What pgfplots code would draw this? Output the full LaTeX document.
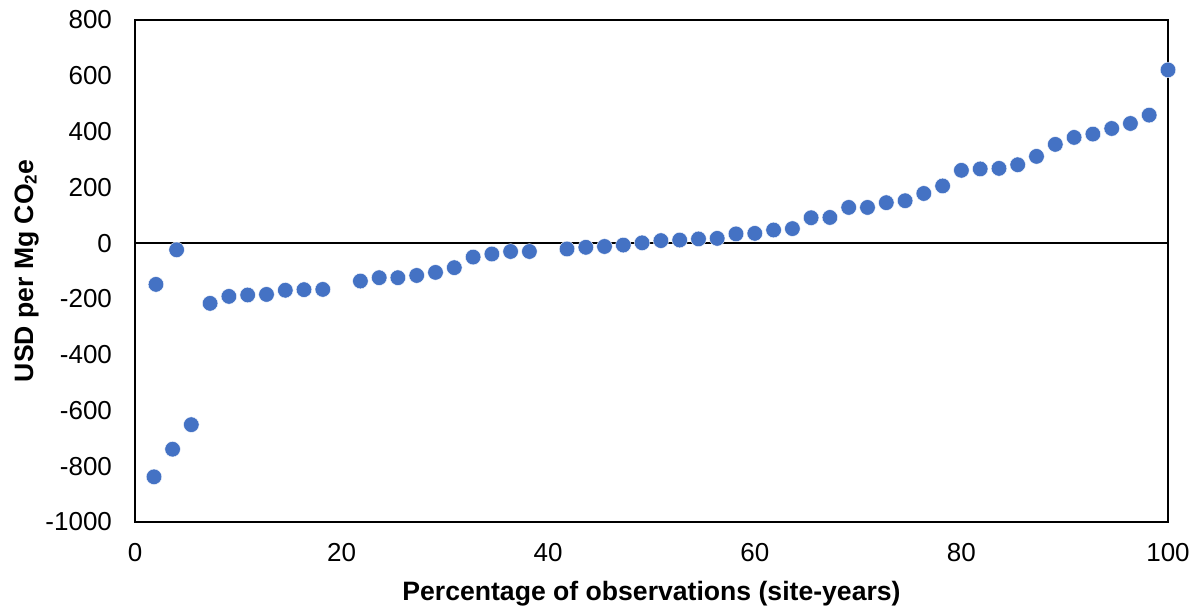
\documentclass[border=0pt]{standalone}
\usepackage{pgfplots}
\pgfplotsset{compat=1.18}
\usepackage{fontspec}
\setmainfont{Liberation Sans}
\definecolor{dotblue}{HTML}{4472C4}
\begin{document}
\begin{tikzpicture}
\begin{axis}[
  scale only axis,
  width=516.5pt, height=251pt,
  xmin=0, xmax=100, ymin=-1000, ymax=800,
  xtick={0,20,...,100},
  ytick={-1000,-800,...,800},
  major tick length=0pt,
  axis line style={line width=0.8pt},
  tick label style={font=\fontsize{13}{15}\selectfont},
  /pgf/number format/assume math mode=true,
  /pgf/number format/1000 sep={},
  yticklabel style={xshift=-8pt},
  xticklabel style={yshift=-7pt},
  xlabel={\bfseries Percentage of observations (site-years)},
  ylabel={\bfseries USD per Mg CO\raisebox{-0.25ex}{\fontsize{8.5}{10}\selectfont 2}e},
  label style={font=\fontsize{13.3}{15}\selectfont\bfseries},
  xlabel style={yshift=-3pt},
  ylabel style={yshift=-3.5pt},
  clip=false,
]
\draw[black, line width=0.8pt] (axis cs:0,0) -- (axis cs:100,0);
\addplot[only marks, mark=*, mark size=3.9pt, mark options={fill=dotblue, draw=white, line width=0.2pt}] coordinates {
(1.84,-838) (2.03,-148) (3.64,-739) (4.03,-24) (5.45,-651)
(7.27,-216) (9.09,-191) (10.91,-186) (12.73,-184) (14.55,-169)
(16.36,-167) (18.18,-166) (21.82,-136) (23.64,-124) (25.45,-124)
(27.27,-116) (29.09,-105) (30.91,-88) (32.73,-50) (34.55,-39)
(36.36,-30) (38.18,-30) (41.82,-21) (43.64,-15) (45.45,-12)
(47.27,-7) (49.09,1) (50.91,9) (52.73,11) (54.55,15)
(56.36,17) (58.18,33) (60.00,35) (61.82,47) (63.64,52)
(65.45,91) (67.27,92) (69.09,128) (70.91,128) (72.73,145)
(74.55,152) (76.36,178) (78.18,205) (80.00,261) (81.82,266)
(83.64,268) (85.45,281) (87.27,311) (89.09,354) (90.91,379)
(92.73,391) (94.55,411) (96.36,429) (98.18,459) (100.00,621)
};
\end{axis}
\path[use as bounding box] (-67.5pt,-44.5pt) rectangle (534.5pt,261pt);
\end{tikzpicture}
\end{document}
